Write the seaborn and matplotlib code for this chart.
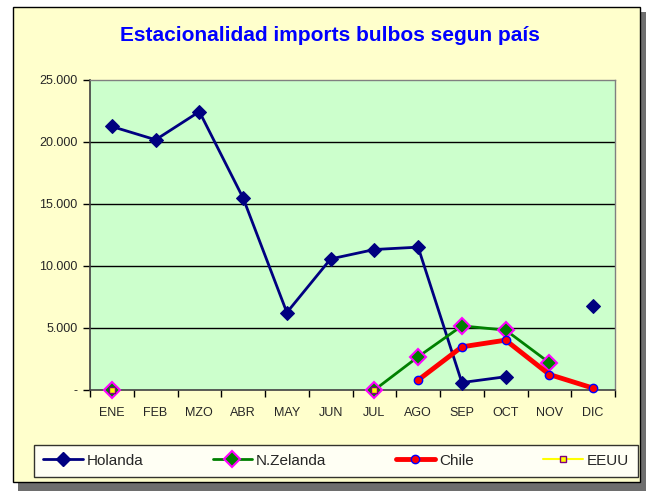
import numpy as np
import pandas as pd
import seaborn as sns
from matplotlib import pyplot as plt
from matplotlib.patches import Rectangle
from matplotlib.lines import Line2D

months = ['ENE', 'FEB', 'MZO', 'ABR', 'MAY', 'JUN', 'JUL', 'AGO', 'SEP', 'OCT', 'NOV', 'DIC']
nan = np.nan
holanda = [21250, 20180, 22450, 15480, 6250, 10570, 11330, 11520, 600, 1070, nan, 6750]
n_zelanda = [0, nan, nan, nan, nan, nan, 0, 2680, 5170, 4830, 2200, nan]
chile = [nan, nan, nan, nan, nan, nan, nan, 800, 3480, 4020, 1250, 150]
eeuu = [0, nan, nan, nan, nan, nan, 0, nan, nan, nan, nan, nan]
y_ticks = [0, 5000, 10000, 15000, 20000, 25000]
y_labels = ['-', '5.000', '10.000', '15.000', '20.000', '25.000']

sns.set_theme(style='white')
plt.rcParams['font.family'] = ['Liberation Sans', 'DejaVu Sans']

fig = plt.figure(figsize=(6.47, 4.91), dpi=100)
fig.patch.set_facecolor('white')

# outer frame with shadow
W, H = 647, 491
fig.patches.append(Rectangle((18 / W, 0), 628 / W, 479 / H, transform=fig.transFigure,
                             facecolor='#6e6e6e', edgecolor='none', zorder=-2))
fig.patches.append(Rectangle((13 / W, 9 / H), 627 / W, 475 / H, transform=fig.transFigure,
                             facecolor='#FFFFCC', edgecolor='black', linewidth=1, zorder=-1))

ax = fig.add_axes([90 / W, (H - 390) / H, 525 / W, 310 / H])
ax.set_facecolor('#CCFFCC')

styles = {
    'Holanda': dict(color='#000080', linewidth=2, marker='D', markersize=7,
                    markerfacecolor='#000080', markeredgecolor='#000080'),
    'N.Zelanda': dict(color='#008000', linewidth=2, marker='D', markersize=8,
                      markerfacecolor='#008000', markeredgecolor='#FF00FF', markeredgewidth=1.5),
    'Chile': dict(color='#FF0000', linewidth=3.5, marker='o', markersize=6,
                  markerfacecolor='#FF0000', markeredgecolor='#0000FF', markeredgewidth=1),
    'EEUU': dict(color='#FFFF00', linewidth=1.5, marker='s', markersize=5,
                 markerfacecolor='#FFFF00', markeredgecolor='#800080', markeredgewidth=1),
}
series = {'Holanda': holanda, 'N.Zelanda': n_zelanda, 'Chile': chile, 'EEUU': eeuu}

for name, vals in series.items():
    df = pd.DataFrame({'x': range(len(months)), 'y': vals})
    df['seg'] = df['y'].isna().cumsum()
    df = df.dropna()
    for _, part in df.groupby('seg'):
        sns.lineplot(data=part, x='x', y='y', ax=ax, legend=False, clip_on=False,
                     zorder=3, **styles[name])

ax.set_xlim(-0.5, 11.5)
ax.set_ylim(0, 25000)
ax.set_yticks(y_ticks)
ax.set_yticklabels(y_labels)
ax.set_xticks(range(len(months)))
ax.set_xticklabels(months)
ax.set_xticks(np.arange(-0.5, 12, 1), minor=True)
ax.tick_params(axis='x', which='major', length=0, pad=12, labelsize=9)
ax.tick_params(axis='x', which='minor', length=5, width=1, color='black', direction='out', bottom=True)
ax.tick_params(axis='y', length=5, width=1, color='black', direction='out', left=True, pad=4, labelsize=9)
ax.set_xlabel('')
ax.set_ylabel('')
for y in y_ticks[1:-1]:
    ax.axhline(y, color='black', linewidth=1, zorder=1)
for side in ['top', 'right']:
    ax.spines[side].set_color('#808080')
    ax.spines[side].set_linewidth(1)
for side in ['left', 'bottom']:
    ax.spines[side].set_color('#404040')
    ax.spines[side].set_linewidth(1.2)

fig.text(0.51, 0.927, 'Estacionalidad imports bulbos segun país', ha='center', va='center',
         fontsize=15, fontweight='bold', color='#0000FF')

handles = [Line2D([], [], **styles[n]) for n in series]
leg = fig.legend(handles, list(series), loc='lower left', ncol=4, mode='expand',
                 bbox_to_anchor=(34 / W, 14 / H, 604 / W, 40 / H), frameon=True,
                 fancybox=False, edgecolor='black', fontsize=11, handlelength=2.6,
                 handletextpad=0.25, borderaxespad=0, borderpad=0.6)
leg.get_frame().set_linewidth(1)
leg.get_frame().set_facecolor('white')

fig.savefig('out.png', dpi=100)
plt.close()
